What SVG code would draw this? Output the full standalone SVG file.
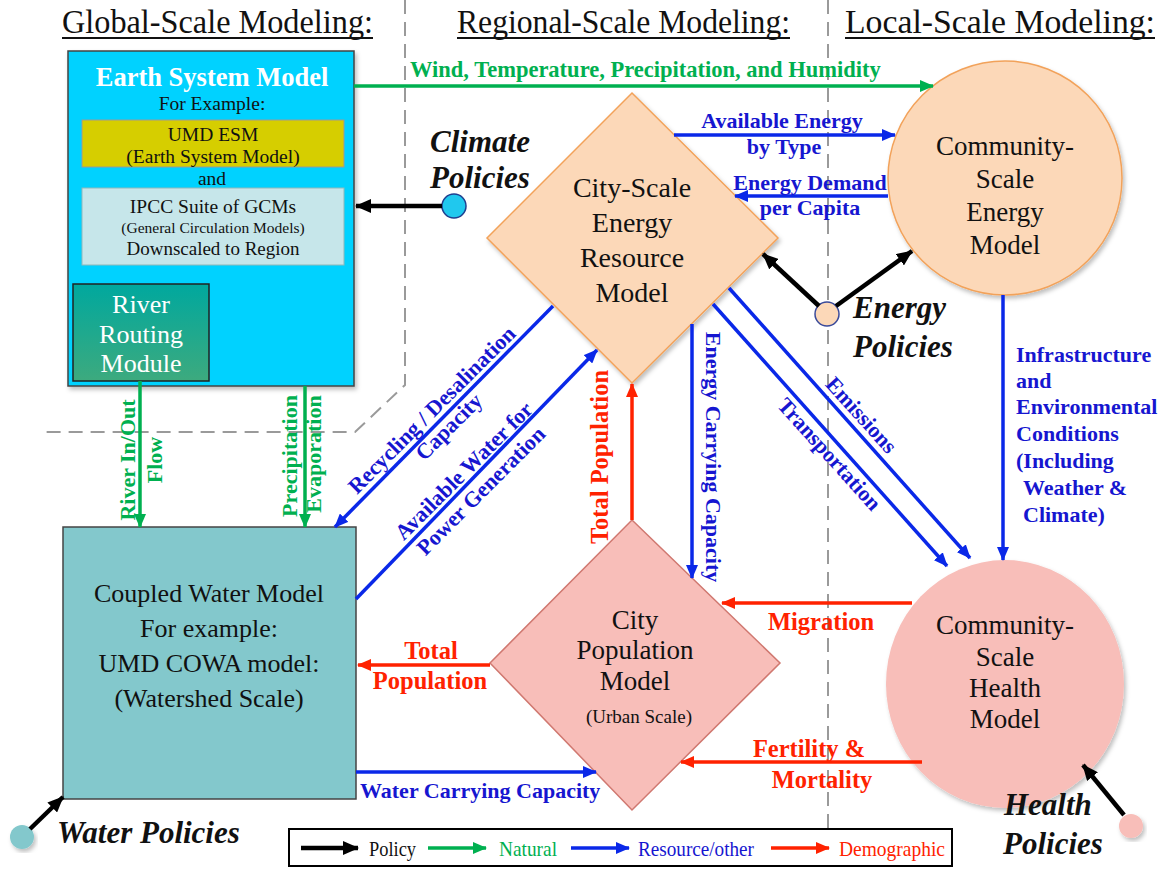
<svg xmlns="http://www.w3.org/2000/svg" width="1176" height="869" viewBox="0 0 1176 869">
<style>
text{font-family:"Liberation Serif","Times New Roman",serif;}
.hdr{font-size:33px;fill:#111;}
.node{font-size:27px;fill:#111;text-anchor:middle;}
.pol{font-size:31px;font-weight:bold;font-style:italic;fill:#111;}
.lg{font-size:22px;font-weight:bold;fill:#00B050;}
.lb{font-size:22px;font-weight:bold;fill:#1616D0;}
.lr{font-size:24.5px;font-weight:bold;fill:#FF2200;}
.leg{font-size:22px;}
.dash{fill:none;stroke:#9a9a9a;stroke-width:2;stroke-dasharray:14 8;}
.eg{fill:none;stroke:#00B050;stroke-width:3.5;marker-end:url(#ag);}
.eb{fill:none;stroke:#0A28E8;stroke-width:3.5;marker-end:url(#ab);}
.er{fill:none;stroke:#FF2200;stroke-width:3.5;marker-end:url(#ar);}
.ek{fill:none;stroke:#000;stroke-width:4.5;marker-end:url(#ak);}
</style>
<defs>
<marker id="ag" viewBox="0 0 14 12" refX="13" refY="6" markerWidth="14" markerHeight="12" markerUnits="userSpaceOnUse" orient="auto"><path d="M0,0 L14,6 L0,12 z" fill="#00B050"/></marker>
<marker id="ab" viewBox="0 0 14 12" refX="13" refY="6" markerWidth="14" markerHeight="12" markerUnits="userSpaceOnUse" orient="auto"><path d="M0,0 L14,6 L0,12 z" fill="#0A28E8"/></marker>
<marker id="ar" viewBox="0 0 14 12" refX="13" refY="6" markerWidth="14" markerHeight="12" markerUnits="userSpaceOnUse" orient="auto"><path d="M0,0 L14,6 L0,12 z" fill="#FF2200"/></marker>
<marker id="ak" viewBox="0 0 16 14" refX="15" refY="7" markerWidth="16" markerHeight="14" markerUnits="userSpaceOnUse" orient="auto"><path d="M0,0 L16,7 L0,14 z" fill="#000"/></marker>
<linearGradient id="rivg" x1="0" y1="0" x2="0" y2="1"><stop offset="0" stop-color="#00A89E"/><stop offset="1" stop-color="#3DAA7E"/></linearGradient>
<filter id="sh" x="-10%" y="-10%" width="125%" height="125%"><feDropShadow dx="2" dy="3" stdDeviation="2" flood-color="#000" flood-opacity="0.25"/></filter>
</defs>
<rect width="1176" height="869" fill="#fff"/>

<g id="headers">
<text class="hdr" x="62" y="33" textLength="311" lengthAdjust="spacingAndGlyphs">Global-Scale Modeling:</text>
<line x1="62" y1="38" x2="373" y2="38" stroke="#111" stroke-width="1.8"/>
<text class="hdr" x="457" y="33" textLength="333" lengthAdjust="spacingAndGlyphs">Regional-Scale Modeling:</text>
<line x1="457" y1="38" x2="790" y2="38" stroke="#111" stroke-width="1.8"/>
<text class="hdr" x="845" y="33" textLength="310" lengthAdjust="spacingAndGlyphs">Local-Scale Modeling:</text>
<line x1="845" y1="38" x2="1155" y2="38" stroke="#111" stroke-width="1.8"/>
</g>

<g id="dividers">
<path class="dash" d="M405,0 L405,385 L355,432 L42,432"/>
<path class="dash" d="M828,0 L828,828"/>
</g>

<g id="earth-system-model">
<rect x="68" y="51" width="286" height="335" fill="#00D2FF" stroke="#444" stroke-width="1.5" filter="url(#sh)"/>
<text x="212" y="86" text-anchor="middle" style="font-size:26.5px;font-weight:bold;fill:#fff">Earth System Model</text>
<text x="212" y="110" text-anchor="middle" style="font-size:19.5px;fill:#111">For Example:</text>
<rect x="82" y="120" width="262" height="47" fill="#D6CE00" stroke="#999" stroke-width="1"/>
<text x="213" y="141" text-anchor="middle" style="font-size:19.5px;fill:#111">UMD ESM</text>
<text x="213" y="163" text-anchor="middle" style="font-size:19.5px;fill:#111">(Earth System Model)</text>
<text x="212" y="185" text-anchor="middle" style="font-size:19.5px;fill:#111">and</text>
<rect x="82" y="188" width="262" height="77" fill="#C6E6EA" stroke="#8fb8bb" stroke-width="1"/>
<text x="213" y="213" text-anchor="middle" style="font-size:19.5px;fill:#111">IPCC Suite of GCMs</text>
<text x="213" y="233" text-anchor="middle" style="font-size:15.5px;fill:#111">(General Circulation Models)</text>
<text x="213" y="255" text-anchor="middle" style="font-size:19px;fill:#111">Downscaled to Region</text>
</g>

<g id="river-routing-module">
<rect x="73" y="284" width="136" height="97" fill="url(#rivg)" stroke="#222" stroke-width="1.5"/>
<text x="141" y="313" text-anchor="middle" style="font-size:26px;fill:#fff">River</text>
<text x="141" y="343" text-anchor="middle" style="font-size:26px;fill:#fff">Routing</text>
<text x="141" y="372" text-anchor="middle" style="font-size:26px;fill:#fff">Module</text>
</g>

<g id="coupled-water-model">
<rect x="63" y="527" width="293" height="272" fill="#83C8CC" stroke="#444" stroke-width="1.5"/>
<text class="node" x="209" y="602" style="font-size:26px">Coupled Water Model</text>
<text class="node" x="209" y="637" style="font-size:26px">For example:</text>
<text class="node" x="209" y="672" style="font-size:26px">UMD COWA model:</text>
<text class="node" x="209" y="707" style="font-size:26px">(Watershed Scale)</text>
</g>

<g id="city-energy-model">
<path d="M632,93 L778,238 L632,383 L487,238 Z" fill="#FCD8B8" stroke="#F2A25A" stroke-width="1.5" filter="url(#sh)"/>
<text class="node" x="632" y="197" style="font-size:28px">City-Scale</text>
<text class="node" x="632" y="232" style="font-size:28px">Energy</text>
<text class="node" x="632" y="267" style="font-size:28px">Resource</text>
<text class="node" x="632" y="302" style="font-size:28px">Model</text>
</g>

<g id="community-energy-model">
<circle cx="1005" cy="178" r="117" fill="#FCD8B8" stroke="#F2A25A" stroke-width="1.5" filter="url(#sh)"/>
<text class="node" x="1005" y="155">Community-</text>
<text class="node" x="1005" y="188">Scale</text>
<text class="node" x="1005" y="221">Energy</text>
<text class="node" x="1005" y="254">Model</text>
</g>

<g id="city-population-model">
<path d="M632,520 L780,663 L632,810 L490,663 Z" fill="#F8BEB9" stroke="#D07870" stroke-width="1.5"/>
<text class="node" x="635" y="629">City</text>
<text class="node" x="635" y="659">Population</text>
<text class="node" x="635" y="690">Model</text>
<text class="node" x="639" y="723" style="font-size:19px">(Urban Scale)</text>
</g>

<g id="community-health-model">
<ellipse cx="1005" cy="684" rx="119" ry="124" fill="#F8BEB9" filter="url(#sh)"/>
<text class="node" x="1005" y="634">Community-</text>
<text class="node" x="1005" y="666">Scale</text>
<text class="node" x="1005" y="697">Health</text>
<text class="node" x="1005" y="728">Model</text>
</g>

<g id="climate-policies">
<circle cx="454" cy="206" r="12" fill="#20C8EE" stroke="#1F3F8F" stroke-width="1.5"/>
<text class="pol" x="430" y="152">Climate</text>
<text class="pol" x="430" y="188">Policies</text>
</g>

<g id="energy-policies">
<circle cx="827" cy="314" r="12" fill="#FCD8B8" stroke="#3A4A9A" stroke-width="1.5"/>
<text class="pol" x="853" y="318">Energy</text>
<text class="pol" x="853" y="357">Policies</text>
</g>

<g id="health-policies">
<circle cx="1131" cy="826" r="12" fill="#F8BEB9" filter="url(#sh)"/>
<text class="pol" x="1004" y="815">Health</text>
<text class="pol" x="1003" y="854">Policies</text>
</g>

<g id="water-policies">
<circle cx="22" cy="837" r="12" fill="#83C8CC" filter="url(#sh)"/>
<text class="pol" x="57" y="843">Water Policies</text>
</g>

<g id="connectors">
<path class="eg" d="M354,86 L933,86"/>
<path class="eg" d="M140,381 L140,527"/>
<path class="eg" d="M305,386 L305,527"/>
<path class="eb" d="M674,135 L895,135"/>
<path class="eb" d="M888,196 L735,196"/>
<path class="eb" d="M1003,295 L1003,560"/>
<path class="eb" d="M553,306 L335,527"/>
<path class="eb" d="M356,599 L597,350"/>
<path class="eb" d="M692,324 L692,578"/>
<path class="eb" d="M729,288 L970,558"/>
<path class="eb" d="M713,304 L947,566"/>
<path class="eb" d="M356,772 L596,772"/>
<path class="er" d="M632,520 L632,384"/>
<path class="er" d="M912,603 L722,603"/>
<path class="er" d="M922,762 L681,762"/>
<path class="er" d="M490,665 L358,665"/>
<path class="ek" d="M442,206 L356,206"/>
<path class="ek" d="M819,306 L763,254"/>
<path class="ek" d="M836,306 L912,251"/>
<path class="ek" d="M1124,815 L1083,765"/>
<path class="ek" d="M30,829 L63,797"/>
</g>

<g id="connector-labels">
<text class="lg" x="410" y="77" style="font-size:22.5px">Wind, Temperature, Precipitation, and Humidity</text>
<text class="lg" transform="translate(134.5,460) rotate(-90)" text-anchor="middle">River In/Out</text>
<text class="lg" transform="translate(161.5,460) rotate(-90)" text-anchor="middle">Flow</text>
<text class="lg" transform="translate(297,456) rotate(-90)" text-anchor="middle">Precipitation</text>
<text class="lg" transform="translate(321,454) rotate(-90)" text-anchor="middle">Evaporation</text>
<text class="lb" x="782" y="128" text-anchor="middle">Available Energy</text>
<text class="lb" x="784" y="154" text-anchor="middle">by Type</text>
<text class="lb" x="810" y="190" text-anchor="middle">Energy Demand</text>
<text class="lb" x="810" y="215" text-anchor="middle">per Capita</text>
<text class="lb" x="1016" y="362">Infrastructure</text>
<text class="lb" x="1016" y="388">and</text>
<text class="lb" x="1016" y="414">Environmental</text>
<text class="lb" x="1016" y="441">Conditions</text>
<text class="lb" x="1016" y="468">(Including</text>
<text class="lb" x="1023" y="495">Weather &amp;</text>
<text class="lb" x="1023" y="522">Climate)</text>
<text class="lb" transform="translate(437,415) rotate(-45)" text-anchor="middle">Recycling / Desalination</text>
<text class="lb" transform="translate(454,432) rotate(-45)" text-anchor="middle">Capacity</text>
<text class="lb" transform="translate(469,476) rotate(-45)" text-anchor="middle">Available Water for</text>
<text class="lb" transform="translate(486,496) rotate(-45)" text-anchor="middle">Power Generation</text>
<text class="lb" transform="translate(706,457) rotate(90)" text-anchor="middle">Energy Carrying Capacity</text>
<text class="lb" transform="translate(856,420) rotate(48)" text-anchor="middle">Emissions</text>
<text class="lb" transform="translate(824,459) rotate(48)" text-anchor="middle">Transportation</text>
<text class="lb" x="360" y="798">Water Carrying Capacity</text>
<text class="lr" transform="translate(608,457) rotate(-90)" text-anchor="middle">Total Population</text>
<text class="lr" x="431" y="659" text-anchor="middle">Total</text>
<text class="lr" x="430" y="689" text-anchor="middle">Population</text>
<text class="lr" x="821" y="630" text-anchor="middle">Migration</text>
<text class="lr" x="809" y="757" text-anchor="middle">Fertility &amp;</text>
<text class="lr" x="822" y="788" text-anchor="middle">Mortality</text>
</g>

<g id="legend">
<rect x="289" y="829" width="663" height="37" fill="#fff" stroke="#000" stroke-width="2"/>
<line x1="301" y1="848" x2="358" y2="848" stroke="#000" stroke-width="4.5" marker-end="url(#ak)"/>
<text class="leg" x="369" y="856" fill="#111" textLength="47" lengthAdjust="spacingAndGlyphs">Policy</text>
<line x1="428" y1="848" x2="486" y2="848" stroke="#00B050" stroke-width="3.5" marker-end="url(#ag)"/>
<text class="leg" x="499" y="856" fill="#00B050" textLength="58" lengthAdjust="spacingAndGlyphs">Natural</text>
<line x1="571" y1="848" x2="629" y2="848" stroke="#0A28E8" stroke-width="3.5" marker-end="url(#ab)"/>
<text class="leg" x="638" y="856" fill="#1616D0" textLength="116" lengthAdjust="spacingAndGlyphs">Resource/other</text>
<line x1="771" y1="848" x2="829" y2="848" stroke="#FF2200" stroke-width="3.5" marker-end="url(#ar)"/>
<text class="leg" x="839" y="856" fill="#FF2200" textLength="106" lengthAdjust="spacingAndGlyphs">Demographic</text>
</g>
</svg>
